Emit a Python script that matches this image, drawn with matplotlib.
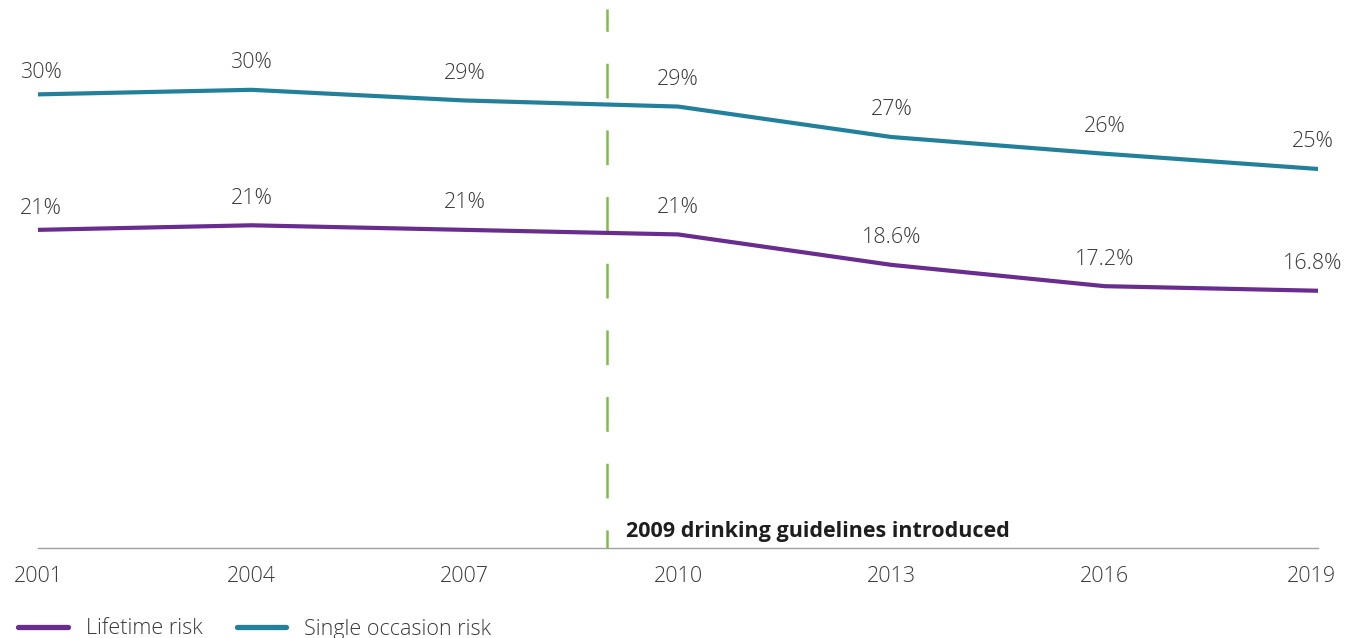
import matplotlib.pyplot as plt
import matplotlib.transforms as mtransforms
import numpy as np

plt.rcParams['font.family'] = ['Open Sans', 'DejaVu Sans']
plt.rcParams['lines.scale_dashes'] = False

years = [2001, 2004, 2007, 2010, 2013, 2016, 2019]
single_occasion = [29.8, 30.1, 29.4, 29.0, 27.0, 25.9, 24.9]
lifetime = [20.9, 21.2, 20.9, 20.6, 18.6, 17.2, 16.9]
single_labels = ['30%', '30%', '29%', '29%', '27%', '26%', '25%']
lifetime_labels = ['21%', '21%', '21%', '21%', '18.6%', '17.2%', '16.8%']
guideline_year = 2009
guideline_text = '2009 drinking guidelines introduced'

purple = '#692C8F'
teal = '#23809A'
green = '#7DBE45'
text_col = '#3A3A3A'
fs = 15.5

W, H = 1349, 638
fig = plt.figure(figsize=(W / 100, H / 100), dpi=100)
ax = fig.add_axes([38 / W, (H - 548) / H, (1318 - 38) / W, 548 / H])

ax.plot(years, lifetime, color=purple, lw=3.0, solid_capstyle='round', label='Lifetime risk')
ax.plot(years, single_occasion, color=teal, lw=3.0, solid_capstyle='round', label='Single occasion risk')

def label_series(xs, ys, texts):
    n = len(xs)
    for i, (x, y, s) in enumerate(zip(xs, ys, texts)):
        dx, dy = 0, 19.5
        if i == 0:
            dx, dy = 2, 15.5
        elif i == n - 1:
            dx = -4
        ax.annotate(s, (x, y), xytext=(dx, dy), textcoords='offset points',
                    ha='center', va='center', fontsize=fs, color=text_col, fontweight='light')

label_series(years, single_occasion, single_labels)
label_series(years, lifetime, lifetime_labels)

ax.plot([guideline_year, guideline_year], [0, 35.4], color=green, lw=1.8,
        linestyle=(12, (25, 23)), zorder=1)
ax.text(guideline_year + 0.27, 1.1, guideline_text, fontsize=fs, fontweight='bold',
        color='#1E1E1E', ha='left', va='center')

ax.set_xlim(2001, 2019)
ax.set_ylim(0, 36)
ax.set_xticks(years)
ax.set_xticklabels([str(y) for y in years])
ax.set_yticks([])
for side in ['top', 'right', 'left']:
    ax.spines[side].set_visible(False)
ax.spines['bottom'].set_color('#A0A0A0')
ax.spines['bottom'].set_linewidth(1.0)
ax.tick_params(axis='x', length=0, pad=13, labelsize=fs, labelcolor=text_col)
for lab in ax.get_xticklabels():
    lab.set_fontweight('light')
# nudge the last year label left a little, like the original
shift = mtransforms.ScaledTranslation(-7 / 100, 0, fig.dpi_scale_trans)
last = ax.get_xticklabels()[-1]
last.set_transform(last.get_transform() + shift)
ax.patch.set_visible(False)

handles, labels = ax.get_legend_handles_labels()
leg = fig.legend(handles, labels, loc='center left', bbox_to_anchor=(18 / W, 9 / H),
                 ncol=2, frameon=False, borderpad=0, borderaxespad=0,
                 handlelength=2.3, handletextpad=0.84, columnspacing=1.6,
                 prop={'size': fs, 'weight': 'light'})
for t in leg.get_texts():
    t.set_color(text_col)
for l in leg.get_lines():
    l.set_linewidth(3.8)
    l.set_solid_capstyle('round')

fig.savefig('out.png', dpi=100)
